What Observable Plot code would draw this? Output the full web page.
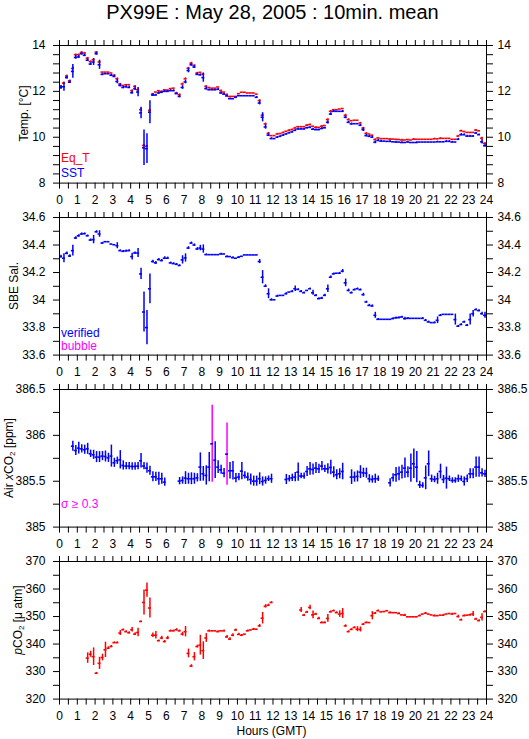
<!DOCTYPE html>
<html><head><meta charset="utf-8">
<script src="https://cdn.jsdelivr.net/npm/d3@7"></script>
<script src="https://cdn.jsdelivr.net/npm/@observablehq/plot@0.6"></script>
<style>
html,body{margin:0;padding:0;background:#fff;}
#wrap{position:relative;width:529px;height:739px;overflow:hidden;font-family:"Liberation Sans",Arial,sans-serif;color:#000;}
#title{position:absolute;left:0;top:1px;width:545px;text-align:center;font-size:20px;line-height:22px;white-space:nowrap;}
.pl{position:absolute;left:0;}
#ov{position:absolute;left:0;top:0;pointer-events:none;}
</style></head>
<body><div id="wrap"><div id="title">PX99E : May 28, 2005 : 10min. mean</div></div>
<script>
// ---------- DATA (10-minute means, slot k covers k*10 .. k*10+10 min) ----------
const xTickLabels = [0,1,2,3,4,5,6,7,8,9,10,11,12,13,14,15,16,17,18,19,20,21,22,23,24];

const eqT = [
12.22,12.36,12.67,12.46,13.00,13.60,
13.60,13.70,13.67,13.45,13.30,13.38,
13.71,13.28,12.84,12.84,12.84,12.80,
12.70,12.55,12.32,12.26,12.29,12.29,
12.03,12.22,12.07,11.20,9.64,9.61,
11.17,11.88,11.97,12.03,12.00,12.07,
12.06,12.12,12.14,11.93,11.86,12.32,
12.55,13.01,13.23,13.13,12.80,12.83,
12.75,12.22,12.17,12.14,12.14,12.19,
12.03,11.97,11.86,11.78,11.78,11.78,
11.90,11.96,11.96,11.93,11.93,11.93,
11.88,11.60,10.96,10.58,10.17,10.07,
10.07,10.14,10.16,10.20,10.26,10.30,
10.33,10.40,10.46,10.46,10.46,10.52,
10.55,10.48,10.43,10.43,10.48,10.51,
10.77,11.13,11.20,11.20,11.23,11.25,
10.96,10.77,10.72,10.74,10.74,10.62,
10.40,10.17,10.14,10.09,9.90,9.97,
9.94,9.94,9.94,9.92,9.92,9.91,
9.90,9.88,9.88,9.90,9.88,9.91,
9.91,9.91,9.91,9.91,9.91,9.91,
9.93,9.93,9.95,9.95,9.95,9.95,
9.91,9.91,10.05,10.28,10.25,10.21,
10.21,10.21,10.31,10.28,9.96,9.73];
const eqTErr = [
.04,.04,.04,.04,.06,.03, .03,.03,.03,.03,.03,.04, .03,.04,0,0,0,0, .03,.04,.03,0,0,0,
.04,.04,.04,.06,.04,.04, .05,.03,0,0,0,0, 0,0,0,.03,.03,.04, .04,.04,.04,.03,.03,0,
.04,.03,0,0,0,0, .03,0,.03,0,0,0, 0,0,0,0,0,0, 0,.04,.05,.04,.04,0,
0,.03,0,.03,0,.03, .03,.03,0,0,0,.03, .03,0,.03,0,.03,0, .04,.04,0,0,0,0,
.04,.03,0,0,0,.03, .03,.03,0,0,.03,0, 0,0,0,.03,0,0, 0,.03,0,0,0,.03,
0,0,0,0,0,0, .03,0,.03,0,0,0, 0,0,.03,.03,0,0, 0,0,.03,0,.04,.04];

const sst = [
12.17,12.20,12.60,12.40,12.87,13.48,
13.50,13.64,13.57,13.36,13.19,13.28,
13.64,13.16,12.74,12.77,12.77,12.70,
12.65,12.43,12.26,12.17,12.20,12.17,
11.94,12.12,11.97,11.06,9.54,9.50,
11.09,11.84,11.84,11.93,11.96,12.00,
12.00,12.03,12.03,11.90,11.78,12.17,
12.41,12.91,13.16,13.06,12.74,12.72,
12.60,12.12,12.07,12.07,12.07,12.09,
11.93,11.88,11.80,11.68,11.68,11.74,
11.81,11.81,11.81,11.81,11.81,11.81,
11.74,11.49,10.87,10.45,10.09,9.94,
9.94,10.00,10.04,10.09,10.14,10.19,
10.23,10.30,10.36,10.36,10.36,10.41,
10.43,10.35,10.33,10.33,10.38,10.41,
10.65,11.01,11.13,11.13,11.13,11.13,
10.87,10.65,10.58,10.59,10.59,10.52,
10.33,10.07,10.04,10.00,9.78,9.86,
9.83,9.83,9.82,9.82,9.80,9.79,
9.79,9.77,9.77,9.79,9.77,9.77,
9.77,9.79,9.79,9.79,9.79,9.79,
9.79,9.80,9.80,9.80,9.82,9.82,
9.79,9.79,9.91,10.11,10.11,10.05,
10.05,10.05,10.18,10.11,9.80,9.63];
const sstErr = [
.08,.2,.06,.06,.3,.08, .06,.05,.05,.06,.06,.15, .06,.2,.03,0,0,.04, .05,.1,.06,.05,.05,.05,
.06,.08,.2,.25,.77,.65, .5,.06,.03,.05,.04,.04, .04,.04,.04,.03,.06,.08, .08,.1,.06,.06,.05,.04,
.2,.06,.03,0,0,.03, .05,.04,.04,.03,0,.03, 0,0,0,0,0,0, .04,.08,.2,.1,.06,.04,
0,.03,.03,.03,.03,.03, .03,.03,.04,.03,.03,.03, .03,.04,.03,.03,.04,.03, .07,.06,.04,0,0,.04,
.06,.05,.04,0,0,.04, .08,.05,.04,.04,.06,.05, .04,0,0,.03,0,.03, 0,.03,0,.03,0,0,
.03,0,0,0,0,0, 0,.03,0,0,.03,.03, .03,0,.04,.05,.04,.04, .04,.03,.04,.03,.1,.06];

const sal = [
34.316,34.304,34.340,34.320,34.359,34.451,
34.467,34.480,34.482,34.467,34.436,34.439,
34.496,34.480,34.414,34.424,34.424,34.407,
34.402,34.395,34.359,34.354,34.357,34.359,
34.316,34.342,34.342,34.190,33.913,33.800,
34.082,34.280,34.270,34.294,34.287,34.304,
34.304,34.270,34.265,34.260,34.251,34.292,
34.306,34.378,34.414,34.400,34.371,34.378,
34.371,34.330,34.330,34.330,34.330,34.330,
34.335,34.335,34.316,34.316,34.308,34.304,
34.311,34.318,34.328,34.328,34.328,34.328,
34.328,34.280,34.166,34.101,34.046,34.002,
34.002,34.029,34.034,34.034,34.046,34.058,
34.063,34.082,34.077,34.063,34.053,34.070,
34.082,34.053,34.034,34.010,34.014,34.034,
34.082,34.166,34.190,34.195,34.195,34.210,
34.125,34.070,34.053,34.075,34.082,34.075,
34.039,33.986,33.961,33.957,33.889,33.860,
33.860,33.860,33.860,33.860,33.865,33.870,
33.872,33.877,33.865,33.867,33.867,33.867,
33.867,33.867,33.867,33.853,33.841,33.836,
33.836,33.853,33.889,33.896,33.896,33.896,
33.896,33.858,33.810,33.822,33.841,33.817,
33.858,33.901,33.930,33.923,33.901,33.889];
const salErr = [
.01,.033,.01,.01,.039,.01, .008,.008,.006,.006,.008,.03, .008,.024,.006,0,0,0, 0,.022,.006,.006,.006,.006,
.024,.008,.033,.041,.146,.125, .108,.01,.01,.008,.008,.01, .008,.006,.006,.006,.006,.03, .03,.01,.008,.008,.01,.02,
.03,.006,0,0,0,0, .006,0,.006,0,.006,0, .006,0,0,0,0,0, 0,.015,.048,.01,.036,.008,
0,.006,0,0,.008,0, .006,.02,.006,.006,.006,0, .006,.018,.006,.006,.006,.008, .027,.008,.006,0,.006,.012,
.028,.01,.006,.006,.006,.006, .01,.006,.008,.008,.022,.006, 0,0,0,0,.006,.006, .006,.006,.01,.006,0,0,
0,0,.006,.006,.006,0, .006,.024,.006,0,0,0, 0,.04,.006,.006,.006,.006, .04,.024,.006,.006,.01,.022];

const airCO2 = [].concat(
  Array(4).fill(null),
  [385.882,385.835,385.861,385.853,385.843,385.853,385.799,385.788,385.763,385.763,385.774,385.770,
   385.755,385.774,385.701,385.723,385.734,385.672,385.665,385.665,385.661,385.661,385.665,385.723,
   385.665,385.643,385.614,385.548,385.548,385.527,385.527,385.490],
  Array(4).fill(null),
  [385.501,385.508,385.534,385.527,385.527,385.527,385.537,385.654,385.581,385.563,385.654,385.908,
   385.730,385.654,385.625,385.588,385.795,385.614,385.614,385.534,385.545,385.610,385.563,385.545,
   385.519,385.501,385.501,385.527,385.497,385.508,385.527,385.527],
  Array(4).fill(null),
  [385.519,385.527,385.537,385.545,385.599,385.556,385.556,385.606,385.635,385.628,385.643,385.635,
   385.665,385.635,385.635,385.650,385.599,385.570,385.581,385.606],
  Array(2).fill(null),
  [385.545,385.545,385.552,385.599,385.592,385.588,385.527,385.519,385.527,385.527],
  Array(3).fill(null),
  [385.483,385.537,385.570,385.581,385.599,385.643,385.599,385.643,385.690,385.654,385.461,385.454,
   385.537,385.690,385.527,385.519,385.527,385.606,385.519,385.534,385.527,385.508,385.508,385.527,
   385.527,385.497,385.527,385.581,385.581,385.654,385.654,385.592,385.581]);
const airErr = [].concat(
  Array(4).fill(0),
  [.055,.055,.065,.045,.05,.06,.04,.05,.06,.06,.05,.06,.05,.12,.05,.04,.1,.05,.04,.04,.04,.04,.04,.08,
   .04,.055,.05,.055,.05,.07,.06,.045],
  Array(4).fill(0),
  [.04,.04,.07,.06,.065,.06,.045,.155,.08,.105,.16,.42,.2,.07,.05,.05,.34,.09,.1,.05,.04,.095,.04,.045,
   .06,.055,.055,.065,.05,.04,.03,.05],
  Array(4).fill(0),
  [.055,.035,.04,.05,.1,.03,.035,.055,.07,.06,.06,.05,.05,.04,.055,.08,.06,.055,.055,.09],
  Array(2).fill(0),
  [.08,.055,.06,.07,.05,.055,.045,.04,.05,.03],
  Array(3).fill(0),
  [.045,.045,.08,.075,.075,.11,.06,.155,.16,.17,.04,.03,.13,.14,.04,.035,.06,.08,.045,.12,.03,.03,.03,.04,
   .03,.05,.04,.055,.055,.11,.11,.045,.04]);

const pco2 = [].concat(
  Array(9).fill(null),
  [334.9,336.3,335.4,329.4,333.0,335.1,337.9,338.5,339.1,340.5,340.5,344.0,345.2,344.5,344.1,345.2,
   343.6,344.2,348.2,355.1,359.6,353.1,343.2,343.2,341.2,342.2,340.9,342.2,344.8,344.8,345.2,344.8,
   343.6,344.5,336.6,332.0,335.4,339.1,339.6,337.6,342.2,344.8,344.8,344.8,344.5,344.8,344.8,342.6,
   341.8,343.2,345.1,343.5,343.2,343.6,344.8,345.1,345.4,345.4,346.6,349.4,353.7,354.1,355.1],
  Array(9).fill(null),
  [352.4,350.5,351.6,353.3,350.6,350.9,349.3,347.8,347.8,349.3,351.7,352.1,351.4,350.9,351.1,346.6,
   344.5,345.3,346.0,345.4,345.3,347.2,347.8,347.8,350.3,351.2,352.1,351.7,351.8,352.1,351.4,351.4,
   351.4,351.1,350.6,350.5,349.9,349.9,349.9,349.9,350.3,350.9,351.2,350.9,350.6,350.3,350.3,350.5,
   350.5,350.9,351.1,350.9,351.1,350.0,348.8,350.3,350.5,350.6,350.9,349.1,348.5,349.7,351.8]);
const pco2Err = [].concat(
  Array(9).fill(0),
  [1.9,1.1,3.2,0.3,2.2,1.2,2.8,0.5,0.4,0.3,0.3,0.9,0.3,0.3,0.4,0.8,0.5,1.5,0.2,4.5,2.6,3.6,0.8,1.4,
   0.3,0.6,0.4,0.6,0.3,0.3,0.4,0.3,0.7,1.9,1.6,0.5,1.5,0.5,3.6,3.2,1.6,0.3,0,0,0.3,0,0.3,0.5,0.5,0.5,
   0.4,0.4,0.3,0,0.3,0,0.3,0,0.5,2.1,0.6,0.4,0.3],
  Array(9).fill(0),
  [0.9,0.3,0.3,0.8,1.4,0.3,0.4,0.3,0.3,1.4,0.3,0.3,0.3,1.2,1.8,0.4,0.3,0.3,0.3,0.9,0.9,0.3,0.3,0,1.5,
   0.3,0.3,0,0,0,0.3,0,0,0.3,0,0.3,0,0,0,0,0.3,0,0.3,0,0,0.3,0,0,0.3,0,0,0.3,0,
   0.5,0.3,0.3,0,0.3,0.9,0.3,0.3,1.3,0.3]);

// y-axis major (labelled) ticks and number of sub-intervals
const tempLabels = [8,10,12,14];
const salLabels = [33.6,33.8,34,34.2,34.4,34.6];
const airLabels = [385,385.5,386,386.5];
const pco2Labels = [320,330,340,350,360,370];

// ---------- DRAWING ----------
const W = 529, ML = 59, MR = 43, MT = 20, MB = 30, FH = 137.6;
const frameTops = [44.7, 216.7, 388.7, 560.7];
const RED = "#ff0000", BLUE = "#0000ff", MAG = "#ff00ff";
const halfHours = d3.range(0, 49).map(i => i / 2);

function rows(vals, errs) {
  const out = [];
  vals.forEach((v, k) => {
    if (v == null) return;
    out.push({t0: k / 6, t1: (k + 1) / 6, tm: (k + 0.5) / 6, v, e: errs[k] || 0});
  });
  return out;
}
function subTicks(labels, sub) {
  const t = [];
  for (let i = 0; i < labels.length - 1; i++) {
    const a = labels[i], b = labels[i + 1];
    for (let j = 0; j < sub; j++) t.push(+(a + (b - a) * j / sub).toFixed(4));
  }
  t.push(labels[labels.length - 1]);
  return t;
}
function fmtY(labels) {
  return d => labels.some(l => Math.abs(l - d) < 1e-6) ? String(+d.toFixed(3)) : "";
}

function panel(i, series, labels, sub) {
  const ticks = subTicks(labels, sub);
  const marks = [];
  for (const s of series) {
    const r = rows(s.vals, s.errs);
    marks.push(Plot.ruleX(r.filter(d => d.e > 0), {
      x: "tm", y1: d => d.v - d.e, y2: d => d.v + d.e,
      stroke: s.errColor ? s.errColor : s.color, strokeWidth: 1.5
    }));
    marks.push(Plot.ruleY(r, {x1: "t0", x2: "t1", y: "v", stroke: s.color, strokeWidth: 1.6}));
  }
  marks.push(Plot.frame({stroke: "black", strokeWidth: 1}));
  marks.push(Plot.axisX({anchor: "bottom", ticks: halfHours, tickSize: 6, tickPadding: 6,
    tickFormat: d => xTickLabels.includes(d) ? String(d) : "", label: null}));
  marks.push(Plot.axisX({anchor: "top", ticks: halfHours, tickSize: 6, tickFormat: () => "", label: null}));
  marks.push(Plot.axisY({anchor: "left", ticks, tickSize: 6, tickPadding: 8, tickFormat: fmtY(labels), label: null}));
  marks.push(Plot.axisY({anchor: "right", ticks, tickSize: 6, tickPadding: 5, tickFormat: fmtY(labels), label: null}));
  const svg = Plot.plot({
    width: W, height: MT + FH + MB,
    marginLeft: ML, marginRight: MR, marginTop: MT, marginBottom: MB,
    x: {domain: [0, 24]},
    y: {domain: [labels[0], labels[labels.length - 1]]},
    style: {background: "transparent", overflow: "visible", fontSize: "12px",
      fontFamily: "'Liberation Sans', Arial, sans-serif", color: "black"},
    marks
  });
  svg.classList.add("pl");
  svg.style.top = (frameTops[i] - MT) + "px";
  svg.style.position = "absolute";
  svg.style.left = "0px";
  document.getElementById("wrap").appendChild(svg);
}

panel(0, [
  {vals: eqT, errs: eqTErr, color: RED},
  {vals: sst, errs: sstErr, color: BLUE}
], tempLabels, 5);
panel(1, [{vals: sal, errs: salErr, color: BLUE}], salLabels, 2);
panel(2, [{vals: airCO2, errs: airErr, color: BLUE,
  errColor: d => d.e >= 0.3 ? MAG : BLUE}], airLabels, 2);
panel(3, [{vals: pco2, errs: pco2Err, color: RED}], pco2Labels, 2);

// ---------- TEXT OVERLAY (axis titles, legends) ----------
const ns = "http://www.w3.org/2000/svg";
const ov = document.createElementNS(ns, "svg");
ov.setAttribute("id", "ov");
ov.setAttribute("width", W); ov.setAttribute("height", 739);
ov.setAttribute("font-family", "'Liberation Sans', Arial, sans-serif");
ov.setAttribute("font-size", "12");
ov.innerHTML = `
<g text-anchor="middle">
 <text transform="translate(24,113.5) rotate(-90)" dy="0.35em">Temp. [°C]</text>
 <text transform="translate(13.5,286) rotate(-90)" dy="0.35em">SBE Sal.</text>
 <text transform="translate(8.5,458) rotate(-90)" dy="0.35em">Air <tspan font-style="italic">x</tspan>CO<tspan font-size="8" dy="2">2</tspan><tspan dy="-2"> [ppm]</tspan></text>
 <text transform="translate(18,620) rotate(-90)" dy="0.35em"><tspan font-style="italic">p</tspan>CO<tspan font-size="8" dy="2">2</tspan><tspan dy="-2"> [μ atm]</tspan></text>
 <text x="271.5" y="734.6">Hours (GMT)</text>
</g>
<text x="61" y="162.3" fill="${RED}">Eq_T</text>
<text x="61" y="176.7" fill="${BLUE}">SST</text>
<text x="61" y="336.5" fill="${BLUE}">verified</text>
<text x="61" y="349.5" fill="${MAG}">bubble</text>
<text x="61" y="508" fill="${MAG}">σ ≥ 0.3</text>`;
document.getElementById("wrap").appendChild(ov);
</script>
</body></html>
